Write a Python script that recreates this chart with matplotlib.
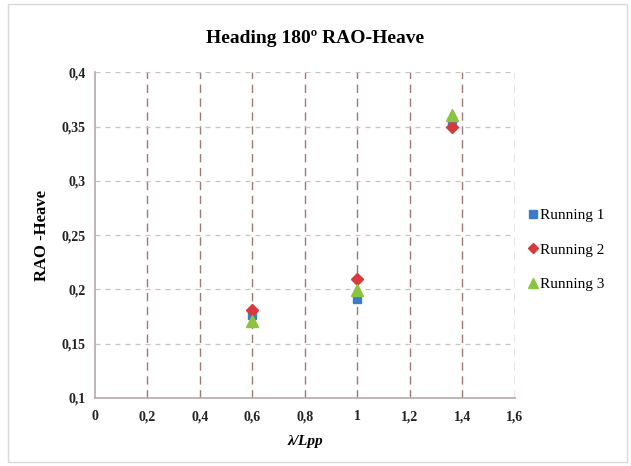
import matplotlib
matplotlib.use("Agg")
import matplotlib.pyplot as plt
from matplotlib.patches import Rectangle

# Data
x_vals = [0.6, 1.0, 1.36]
running1 = [0.176, 0.191, 0.355]
running2 = [0.181, 0.210, 0.350]
running3 = [0.171, 0.199, 0.361]
series_names = ["Running 1", "Running 2", "Running 3"]
x_ticks = [0, 0.2, 0.4, 0.6, 0.8, 1.0, 1.2, 1.4, 1.6]
x_tick_labels = ["0", "0,2", "0,4", "0,6", "0,8", "1", "1,2", "1,4", "1,6"]
y_ticks = [0.1, 0.15, 0.2, 0.25, 0.3, 0.35, 0.4]
y_tick_labels = ["0,1", "0,15", "0,2", "0,25", "0,3", "0,35", "0,4"]

plt.rcParams['font.family'] = ['Liberation Serif', 'DejaVu Serif']

fig = plt.figure(figsize=(6.31, 4.66), dpi=100)
ax = fig.add_axes([0.1506, 0.146, 0.665, 0.699])

# figure border
fig.patches.append(Rectangle((8/631, 4/466), 1 - 12/631, 1 - 8/466, transform=fig.transFigure,
                             fill=False, edgecolor='#d9d9d9', linewidth=1.0))

colors = ['#3b7dc8', '#d63a3c', '#8cc43f']
markers = ['s', 'D', '^']
sizes = [6, 6.5, 8]
for vals, name, c, m, s in zip([running1, running2, running3], series_names, colors, markers, sizes):
    ax.plot(x_vals, vals, linestyle='none', marker=m, color=c, markersize=s, label=name)

ax.set_xlim(0, 1.6)
ax.set_ylim(0.1, 0.4)
ax.set_xticks(x_ticks)
ax.set_xticklabels(x_tick_labels)
ax.set_yticks(y_ticks)
ax.set_yticklabels(y_tick_labels)
ax.tick_params(axis='both', length=0, labelsize=10, labelcolor='#222222')
ax.tick_params(axis='x', pad=9)
ax.tick_params(axis='y', pad=7)
for lab in ax.get_xticklabels() + ax.get_yticklabels():
    lab.set_fontweight('bold')

# grid
for xv in x_ticks[1:]:
    ax.axvline(xv, color='#a07878', linestyle=(0, (6, 4)), linewidth=1.0, zorder=0)
for yv in y_ticks[1:]:
    ax.axhline(yv, color='#cbc3c3', linestyle=(0, (4, 4)), linewidth=0.9, zorder=0)

for sp in ['top', 'right']:
    ax.spines[sp].set_visible(False)
for sp in ['left', 'bottom']:
    ax.spines[sp].set_color('#b8a8a8')
    ax.spines[sp].set_linewidth(1.2)

ax.set_xlabel('λ/Lpp', fontsize=11, fontweight='bold', fontstyle='italic', labelpad=8)
ax.set_ylabel('RAO -Heave', fontsize=12, fontweight='bold', labelpad=8)
fig.text(0.5, 0.918, 'Heading 180º RAO-Heave', ha='center', va='center', fontsize=14, fontweight='bold')

ax.legend(loc='center left', bbox_to_anchor=(1.0, 0.455), frameon=False, fontsize=11,
          handlelength=0.6, handletextpad=0.15, labelspacing=1.35, markerscale=0.85)

fig.savefig('out.png', dpi=100)
